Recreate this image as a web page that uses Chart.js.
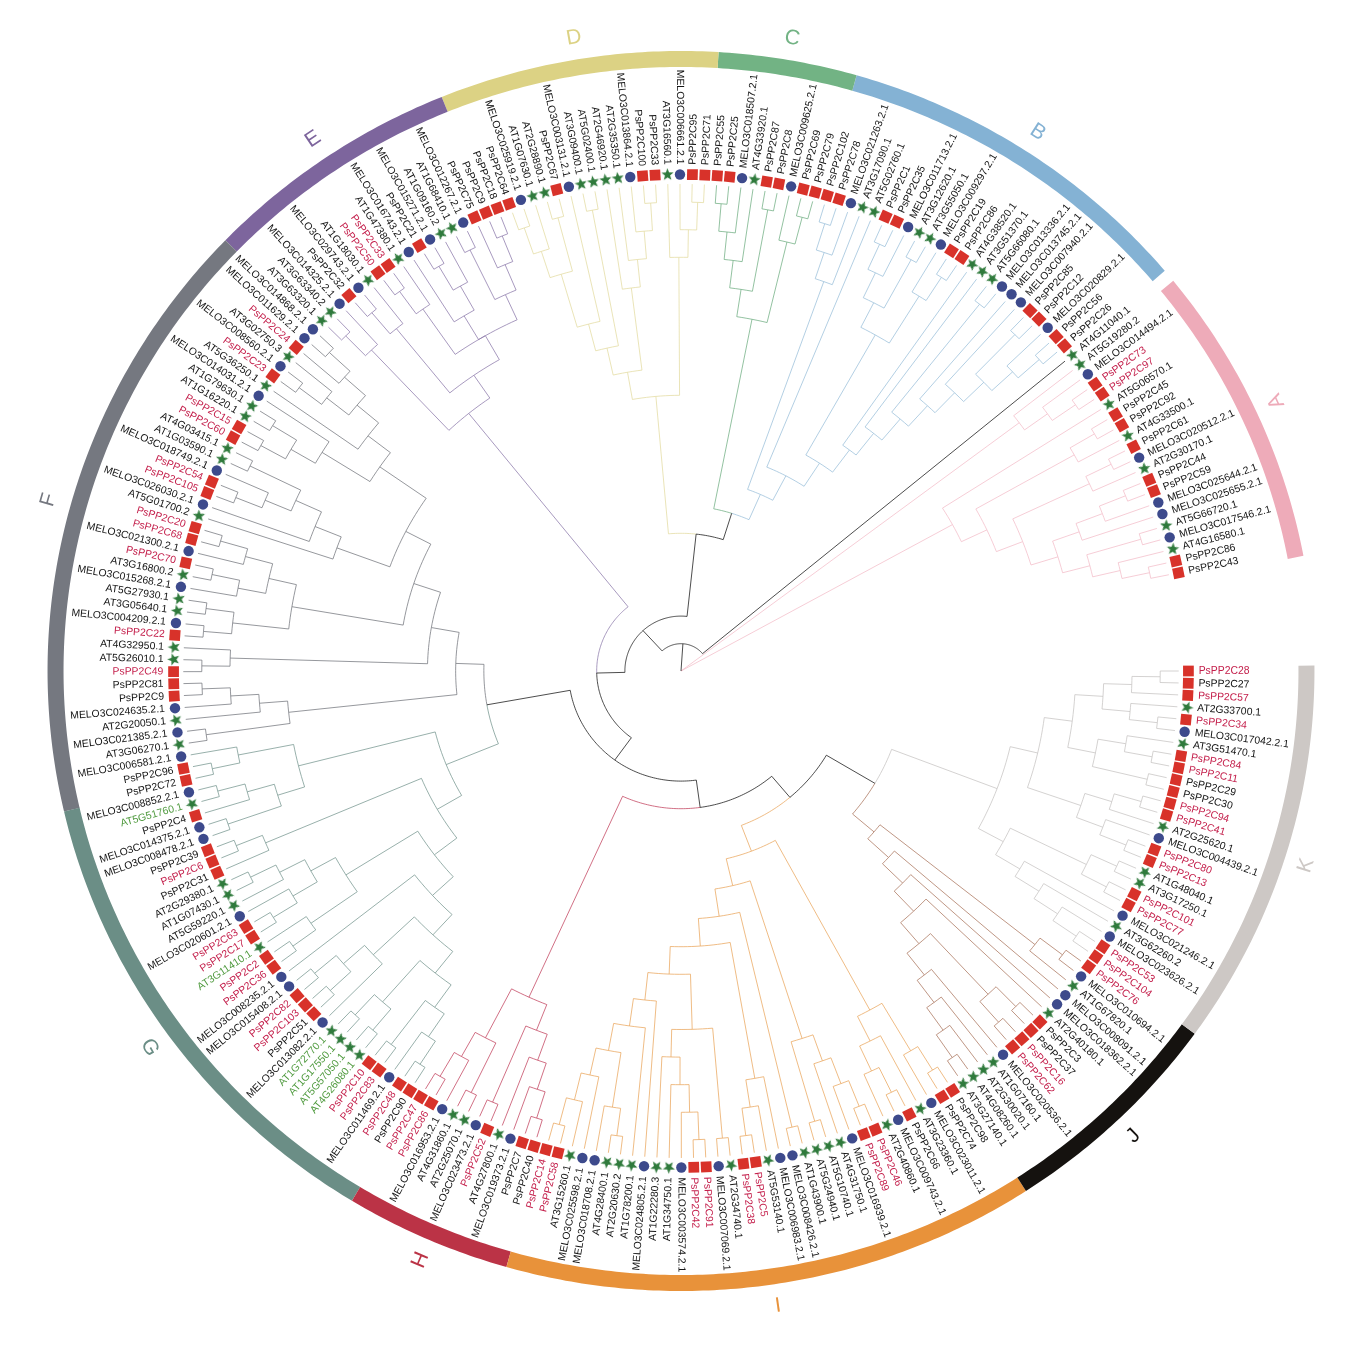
<!DOCTYPE html>
<html>
<head>
<meta charset="utf-8">
<title>PP2C tree</title>
<script src="https://cdn.jsdelivr.net/npm/chart.js@4"></script>
<style>
    html, body { margin: 0; padding: 0; background: #ffffff; }
    canvas { display: block; }
</style>
</head>
<body>
<canvas id="treeChart" width="1372" height="1346"></canvas>
<script>
// Tip names, clockwise from the right. "!" = red label, "~" = green label
const leavesK = ['PsPP2C28!','PsPP2C27','PsPP2C57!','AT2G33700.1','PsPP2C34!','MELO3C017042.2.1','AT3G51470.1','PsPP2C84!','PsPP2C11!','PsPP2C29','PsPP2C30','PsPP2C94!','PsPP2C41!','AT2G25620.1','MELO3C004439.2.1','PsPP2C80!','PsPP2C13!','AT1G48040.1','AT3G17250.1','PsPP2C101!','PsPP2C77!','MELO3C021246.2.1','AT3G62260.2','MELO3C023626.2.1','PsPP2C53!','PsPP2C104!'];
const leavesJ = ['PsPP2C76!','MELO3C010694.2.1','AT1G67820.1','MELO3C008091.2.1','MELO3C018362.2.1','AT2G40180.1','PsPP2C3','PsPP2C37','PsPP2C16!','PsPP2C62!','MELO3C020536.2.1','AT1G07160.1','AT2G30020.1','AT4G08260.1','AT3G27140.1'];
const leavesI = ['PsPP2C98','PsPP2C74','MELO3C023011.2.1','AT3G23360.1','PsPP2C66','MELO3C009743.2.1','AT2G40860.1','PsPP2C46!','PsPP2C89!','MELO3C016939.2.1','AT4G31750.1','AT5G10740.1','AT5G24940.1','AT1G43900.1','MELO3C008426.2.1','MELO3C006983.2.1','AT5G53140.1','PsPP2C5!','PsPP2C38!','AT2G34740.1','MELO3C007069.2.1','PsPP2C91!','PsPP2C42!','MELO3C003574.2.1','AT1G34750.1','AT1G22280.3','MELO3C024805.2.1','AT1G78200.1','AT2G20630.2','AT4G28400.1','MELO3C018708.2.1','MELO3C025598.2.1','AT3G15260.1','PsPP2C58!','PsPP2C14!'];
const leavesH = ['PsPP2C40','PsPP2C7','MELO3C019373.2.1','AT4G27800.1','PsPP2C52!','MELO3C023473.2.1','AT2G25070.1','AT4G31860.1','MELO3C016953.2.1','PsPP2C86!','PsPP2C47!'];
const leavesG = ['PsPP2C90','PsPP2C48!','MELO3C011469.2.1','PsPP2C83!','PsPP2C10!','AT4G26080.1~','AT5G57050.1~','AT1G17550.1~','AT1G72770.1~','MELO3C013082.2.1','PsPP2C51','PsPP2C103!','PsPP2C82!','MELO3C015408.2.1','MELO3C008235.2.1','PsPP2C36!','PsPP2C2!','AT3G11410.1~','PsPP2C17!','PsPP2C63!','MELO3C020601.2.1','AT5G59220.1','AT1G07430.1','AT2G29380.1','PsPP2C31','PsPP2C6!','PsPP2C39','MELO3C008478.2.1','MELO3C014375.2.1','PsPP2C4','AT5G51760.1~','MELO3C008852.2.1','PsPP2C72','PsPP2C96','MELO3C006581.2.1'];
const leavesF = ['AT3G06270.1','MELO3C021385.2.1','AT2G20050.1','MELO3C024635.2.1','PsPP2C9','PsPP2C81','PsPP2C49!','AT5G26010.1','AT4G32950.1','PsPP2C22!','MELO3C004209.2.1','AT3G05640.1','AT5G27930.1','MELO3C015268.2.1','AT3G16800.2','PsPP2C70!','MELO3C021300.2.1','PsPP2C68!','PsPP2C20!','AT5G01700.2','MELO3C026030.2.1','PsPP2C105!','PsPP2C54!','MELO3C018749.2.1','AT1G03590.1','AT4G03415.1','PsPP2C60!','PsPP2C15!','AT1G16220.1','AT1G79630.1','MELO3C014031.2.1','AT5G36250.1','PsPP2C23!','MELO3C008560.2.1','AT3G02750.3','PsPP2C24!','MELO3C011629.2.1','MELO3C014868.2.1'];
const leavesE = ['AT3G63320.1','AT3G63340.2','MELO3C014325.2.1','PsPP2C32','MELO3C029743.2.1','AT1G18030.1','PsPP2C50!','PsPP2C33!','AT1G47380.1','MELO3C016743.2.1','PsPP2C21','MELO3C015271.2.1','AT1G09160.2','AT1G68410.1','MELO3C012267.2.1','PsPP2C75','PsPP2C9','PsPP2C18'];
const leavesD = ['PsPP2C64','MELO3C025919.2.1','AT1G07630.1','AT2G28890.1','PsPP2C67','MELO3C003131.2.1','AT3G09400.1','AT5G02400.1','AT2G46920.1','AT2G35350.1','MELO3C013864.2.1','PsPP2C100','PsPP2C33','AT3G16560.1','MELO3C006661.2.1','PsPP2C95','PsPP2C71'];
const leavesC = ['PsPP2C55','PsPP2C25','MELO3C018507.2.1','AT4G33920.1','PsPP2C87','PsPP2C8','MELO3C009625.2.1','PsPP2C69','PsPP2C79'];
const leavesB = ['PsPP2C102','PsPP2C78','MELO3C021263.2.1','AT3G17090.1','AT5G02760.1','PsPP2C1','PsPP2C35','MELO3C011713.2.1','AT3G12620.1','AT3G55050.1','MELO3C009297.2.1','PsPP2C19','PsPP2C86','AT4G38520.1','AT3G51370.1','AT5G66080.1','MELO3C013336.2.1','MELO3C013745.2.1','MELO3C007940.2.1','PsPP2C85','PsPP2C12','MELO3C020829.2.1','PsPP2C56','PsPP2C26'];
const leavesOut = ['AT4G11040.1'];
const leavesA = ['AT5G19280.2','MELO3C014494.2.1','PsPP2C73!','PsPP2C97!','AT5G06570.1','PsPP2C45','PsPP2C92','AT4G33500.1','PsPP2C61','MELO3C020512.2.1','AT2G30170.1','PsPP2C44','PsPP2C59','MELO3C025644.2.1','MELO3C025655.2.1','AT5G66720.1','MELO3C017546.2.1','AT4G16580.1','PsPP2C86','PsPP2C43'];

// Branching: "." is a tip, (..) a node, a number after ")" forces the node level
const treeK = '(((' + '(((..).)(.(..)))' + '((.(..))(..))' + ')' + '(((..).)(.(..)))' + ')' + '(((..)(..))(.(.(.(..)))))' + ')';
const treeJ = '(((..).)' + '(.(.(.' + '(((..)(..))(.(.(.(..)))))' + ')))' + ')';
const treeI = '(' + '(((..).)(.((..).)))'
    + '(' + '((((..).).)(..))'
    + '(' + '(..)'
    + '(' + '(.(.(..)))'
    + '(' + '((..)((((..).).).))' + '(.(.' + '(((..).)(.(.(..))))' + '))' + ')'
    + ')' + ')' + ')' + ')';
const treeH = '(' + '((((..).).)(..))' + '((..)(.(..)))' + ')';
const treeG = '(' + '(' + '('
    + '(' + '(' + '(' + '(((..).)(..))' + '((..)(..))' + ')' + '(.((..)(..)))' + ')' + '.)'
    + '(((..).)(((..).)(.(..))))' + ')'
    + '(.(..))' + ')'
    + '(((..)(.(..)))((..).))' + ')';
const treeF = '(' + '((..)(.(.(..))))'
    + '(' + '((..).)'
    + '(' + '(((..)(..))((.(..))(.(..))))'
    + '(' + '(.(.(((..).)(..))))' + '(' + '(((..)(..)).)' + '(.(((..).)(.(..))))' + ')' + ')7'
    + ')' + ')' + ')';
const treeE = '(((..).)' + '(((..).)' + '(' + '((..).)' + '(.((..).))' + '((..)(.(..)))' + ')' + ')' + ')';
const treeD = '(' + '(' + '(' + '(' + '(((..).)(..))' + '.)5' + '(..)' + ')' + '(.(.(.(..))))' + ')' + '(.(.(..)))' + ')';
const treeC = '(' + '((((..).).)(..))' + '(.(..))' + ')';
const treeB = '(' + '(((..).).)'
    + '(.' + '(' + '((((..).)(..))(.(..)))'
    + '(.(.' + '((..)' + '(.(.' + '((..)(.(..)))' + '))' + ')' + '))'
    + ')' + ')' + ')';
const treeA1 = '(.(.(..)))';
const treeA2 = '(.' + '(((..).)' + '(((..).)' + '(' + '(((..).).)' + '((..)(.(..)))' + ')' + ')' + ')' + ')';
// How the clades hang together; o is the lone black tip, a and b the two pink groups
const backbone = '((((((((KJ)I)H)(GF))E)(D(CB)))o)ab)';

// Outer ring: clade letters, start and end angle (degrees clockwise from east)
const ringNames = ['K','J','I','H','G','F','E','D','C','B','A'];
const ringStart = [-0.5, 35.8, 57, 106, 121.3, 166.9, 224, 247.8, 273.4, 286.1, 321];
const ringEnd = [35.8, 57, 106, 121.3, 166.9, 224, 247.8, 273.4, 286.1, 319.8, 349.3];
const ringLetterTurn = [-72, -44, -8, 113, 60, -74, -34, -10, 10, 33, -115];

const ringColors = { K:'#cdc8c5', J:'#15120f', I:'#e8923a', H:'#bb3346', G:'#6b8e86', F:'#757880', E:'#7d659d', D:'#dcd284', C:'#72b384', B:'#84b2d4', A:'#eeabb9' };
const branchColors = { K:'#c6c3c2', J:'#a9745c', I:'#e9a65c', H:'#c2405c', G:'#76958f', F:'#73767c', E:'#8b78aa', D:'#e3dba0', C:'#6fae82', B:'#99bfda', a:'#f3bcc8', b:'#f3bcc8', o:'#111111' };
const labelColors = { plain:'#141414', red:'#c4204c', green:'#4f9a3e' };
const markerColors = { square:'#d8322a', circle:'#3d4a8c', star:'#2f7a3c' };

const lastLeafAngle = 348.6;
const tipStart = 487;
const labelRadius = 506.5;
const letterRadius = 642;
const ringRadius = 612;
const ringWidth = 16;

// the picture is a little wider than tall
const xStretch = 1.022;
const centreX = 681;
const centreY = 671;

const treeSources = { K:treeK, J:treeJ, I:treeI, H:treeH, G:treeG, F:treeF, E:treeE, D:treeD, C:treeC, B:treeB, a:treeA1, b:treeA2 };
const allLeaves = [].concat(leavesK, leavesJ, leavesI, leavesH, leavesG, leavesF, leavesE, leavesD, leavesC, leavesB, leavesOut, leavesA);
const angleStep = lastLeafAngle / (allLeaves.length - 1);

function nodeRadius(level) {
    return Math.max(0, 496.5 - 27.6 * level);
}

function polar(r, deg) {
    const rad = deg * Math.PI / 180;
    return { x: r * Math.cos(rad), y: -r * Math.sin(rad) };
}

// Reads one tree string into nodes, handing out tips in order
let nextLeaf = 0;
function readTree(text, color) {
    let pos = 0;
    function readNode() {
        const ch = text[pos];
        if (ch === '.') {
            pos++;
            return { level: 0, angle: nextLeaf++ * angleStep, color: color };
        }
        if (ch === '(') {
            pos++;
            const kids = [];
            while (text[pos] !== ')') {
                if (pos >= text.length) throw new Error('unbalanced tree: ' + text);
                kids.push(readNode());
            }
            pos++;
            let level = 1 + Math.max.apply(null, kids.map(function(k) { return k.level; }));
            let digits = '';
            while (/[0-9]/.test(text[pos] || '')) digits += text[pos++];
            if (digits) level = parseInt(digits, 10);
            return { level: level, kids: kids, color: color, angle: (kids[0].angle + kids[kids.length - 1].angle) / 2 };
        }
        if (ch === 'o') {
            pos++;
            return { level: 0, angle: nextLeaf++ * angleStep, color: branchColors.o };
        }
        pos++;
        return readTree(treeSources[ch], branchColors[ch]);
    }
    const top = readNode();
    if (pos !== text.length) throw new Error('extra text in tree: ' + text);
    return top;
}

function checkCount(name, text, leaves) {
    const n = text.split('.').length - 1;
    if (n !== leaves.length) throw new Error('clade ' + name + ': tree has ' + n + ', names ' + leaves.length);
}
checkCount('K', treeK, leavesK);
checkCount('J', treeJ, leavesJ);
checkCount('I', treeI, leavesI);
checkCount('H', treeH, leavesH);
checkCount('G', treeG, leavesG);
checkCount('F', treeF, leavesF);
checkCount('E', treeE, leavesE);
checkCount('D', treeD, leavesD);
checkCount('C', treeC, leavesC);
checkCount('B', treeB, leavesB);
checkCount('A', treeA1 + treeA2, leavesA);

const rootNode = readTree(backbone, '#111111');

// Turn the nodes into line points, one list per colour, with gaps between pieces
const branchPoints = {};
function addPiece(color, points) {
    if (!branchPoints[color]) branchPoints[color] = [];
    points.forEach(function(p) { branchPoints[color].push(p); });
    branchPoints[color].push({ x: NaN, y: NaN });
}

function addArc(color, r, fromDeg, toDeg) {
    const steps = Math.max(1, Math.ceil(Math.abs(toDeg - fromDeg)));
    const pts = [];
    for (let i = 0; i <= steps; i++) {
        pts.push(polar(r, fromDeg + (toDeg - fromDeg) * i / steps));
    }
    addPiece(color, pts);
}

function walk(node) {
    if (!node.kids) return;
    const r = nodeRadius(node.level);
    node.kids.forEach(function(kid) {
        const outer = kid.kids ? nodeRadius(kid.level) : tipStart;
        addPiece(kid.color, [polar(r, kid.angle), polar(outer, kid.angle)]);
        if (r > 1) addArc(kid.color, r, node.angle, kid.angle);
        walk(kid);
    });
}
walk(rootNode);

// Tips split up by marker shape
function leafKind(name) {
    if (name.indexOf('MELO') === 0) return 'circle';
    if (name.indexOf('AT') === 0) return 'star';
    return 'square';
}

function tipsOfKind(kind) {
    const pts = [];
    allLeaves.forEach(function(name, i) {
        if (leafKind(name) === kind) {
            const p = polar(496.5, i * angleStep);
            p.turn = i * angleStep;
            pts.push(p);
        }
    });
    return pts;
}

function makeStar() {
    const c = document.createElement('canvas');
    c.width = 15;
    c.height = 15;
    const g = c.getContext('2d');
    g.fillStyle = markerColors.star;
    g.beginPath();
    for (let i = 0; i < 10; i++) {
        const rr = i % 2 === 0 ? 6.4 : 2.7;
        const a = -Math.PI / 2 + i * Math.PI / 5;
        g.lineTo(7.5 + rr * Math.cos(a), 7.5 + rr * Math.sin(a));
    }
    g.closePath();
    g.fill();
    return c;
}

function ringPoints(start, end) {
    const pts = [];
    const steps = Math.ceil((end - start) * 2);
    for (let i = 0; i <= steps; i++) {
        pts.push(polar(ringRadius, start + (end - start) * i / steps));
    }
    return pts;
}

// Tip names and clade letters
const labelPlugin = {
    id: 'treeLabels',
    afterDatasetsDraw: function(chart) {
        const ctx = chart.ctx;
        const sx = chart.scales.x;
        const sy = chart.scales.y;
        ctx.save();
        ctx.font = '10.4px "Liberation Sans", Arial, sans-serif';
        ctx.textBaseline = 'middle';
        allLeaves.forEach(function(raw, i) {
            const deg = i * angleStep;
            const last = raw[raw.length - 1];
            const name = raw.replace(/[!~]$/, '');
            const p = polar(labelRadius, deg);
            const flip = deg > 90 && deg < 270;
            ctx.save();
            ctx.translate(sx.getPixelForValue(p.x), sy.getPixelForValue(p.y));
            ctx.rotate((flip ? deg + 180 : deg) * Math.PI / 180);
            ctx.textAlign = flip ? 'right' : 'left';
            ctx.fillStyle = last === '!' ? labelColors.red : last === '~' ? labelColors.green : labelColors.plain;
            ctx.fillText(name, 0, 0);
            ctx.restore();
        });
        ctx.font = '21px "Liberation Sans", Arial, sans-serif';
        ctx.textAlign = 'center';
        ringNames.forEach(function(letter, i) {
            const p = polar(letterRadius, (ringStart[i] + ringEnd[i]) / 2);
            ctx.save();
            ctx.translate(sx.getPixelForValue(p.x), sy.getPixelForValue(p.y));
            ctx.rotate(ringLetterTurn[i] * Math.PI / 180);
            ctx.fillStyle = ringColors[letter];
            ctx.fillText(letter, 0, 0);
            ctx.restore();
        });
        ctx.restore();
    }
};

function initTreeChart() {
    const canvas = document.getElementById('treeChart');
    const datasets = [];

    const squares = tipsOfKind('square');
    const circles = tipsOfKind('circle');
    const stars = tipsOfKind('star');
    datasets.push({
        data: squares,
        pointStyle: 'rect',
        pointRadius: 7.6,
        pointRotation: squares.map(function(p) { return p.turn; }),
        pointBackgroundColor: markerColors.square,
        pointBorderWidth: 0
    });
    datasets.push({
        data: circles,
        pointStyle: 'circle',
        pointRadius: 5.2,
        pointBackgroundColor: markerColors.circle,
        pointBorderWidth: 0
    });
    datasets.push({
        data: stars,
        pointStyle: makeStar(),
        pointRotation: stars.map(function(p) { return p.turn + 90; }),
        pointBorderWidth: 0
    });

    // the long dash keeps Chart.js off its fast path, which makes stairs on steep lines
    Object.keys(branchPoints).forEach(function(color) {
        datasets.push({
            data: branchPoints[color],
            showLine: true,
            spanGaps: false,
            borderColor: color,
            borderWidth: 0.75,
            borderDash: [5000, 0],
            pointRadius: 0
        });
    });

    ringNames.forEach(function(letter, i) {
        datasets.push({
            data: ringPoints(ringStart[i], ringEnd[i]),
            showLine: true,
            borderColor: ringColors[letter],
            borderWidth: ringWidth,
            borderCapStyle: 'butt',
            borderDash: [5000, 0],
            pointRadius: 0
        });
    });

    new Chart(canvas, {
        type: 'scatter',
        data: { datasets: datasets },
        plugins: [labelPlugin],
        options: {
            responsive: false,
            animation: false,
            layout: { padding: 0, autoPadding: false },
            plugins: { legend: { display: false }, tooltip: { enabled: false } },
            scales: {
                x: { display: false, min: -centreX / xStretch, max: (canvas.width - centreX) / xStretch },
                y: { display: false, min: centreY - canvas.height, max: centreY }
            }
        }
    });
}

initTreeChart();
</script>
</body>
</html>
